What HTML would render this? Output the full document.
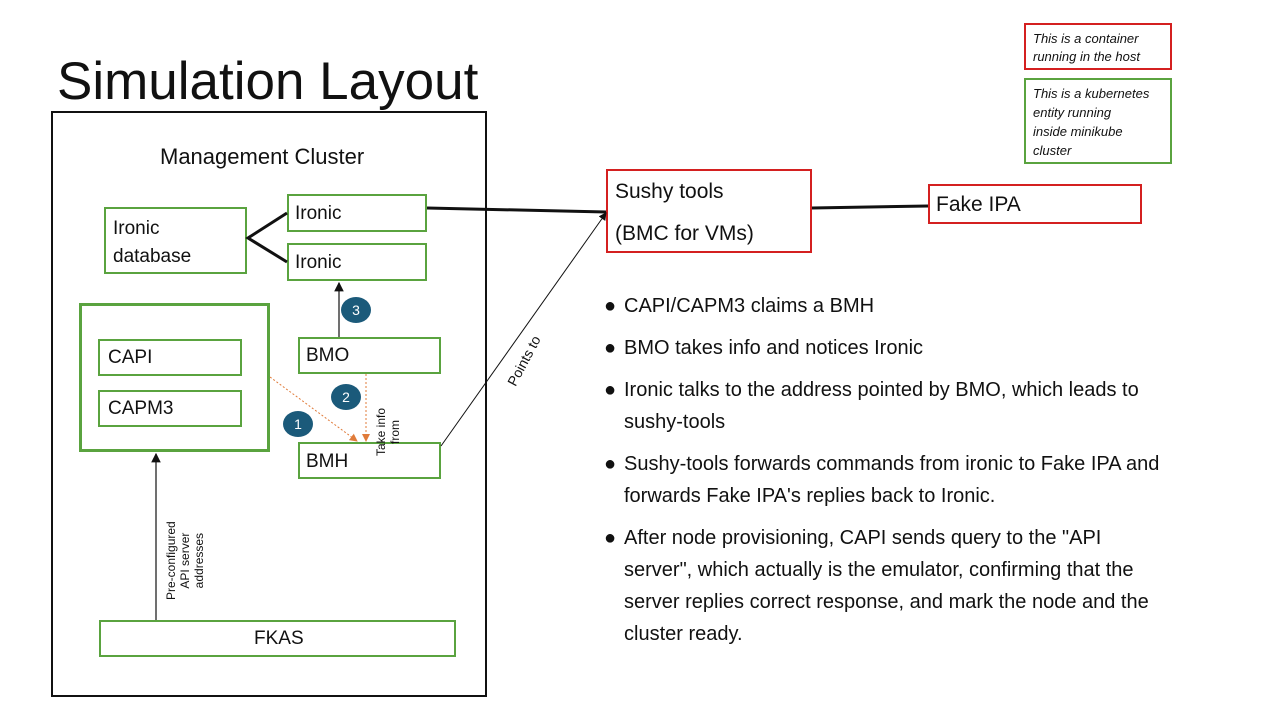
<!DOCTYPE html>
<html><head><meta charset="utf-8"><style>
body{margin:0;width:1280px;height:720px;background:#fff;position:relative;overflow:hidden;font-family:"Liberation Sans",sans-serif;color:#111}
.b{position:absolute;box-sizing:border-box}
.g{border:2px solid #5aa33f}
.r{border:2px solid #d42020}
.t{position:absolute;white-space:nowrap}
.c{position:absolute;width:30px;height:26px;border-radius:50%;background:#1b5a7a;color:#fff;font-size:14px;text-align:center;line-height:26px}
li{margin-bottom:10px;position:relative}
li span{position:absolute;left:-20px}
</style></head><body>
<div class="t" style="left:57px;top:51px;font-size:53px">Simulation Layout</div>
<div class="b" style="left:51px;top:111px;width:436px;height:586px;border:2px solid #111"></div>
<div class="t" style="left:160px;top:144px;font-size:22px">Management Cluster</div>

<div class="b g" style="left:104px;top:207px;width:143px;height:67px"></div>
<div class="t" style="left:113px;top:215px;font-size:19px;line-height:28px">Ironic<br>database</div>
<div class="b g" style="left:287px;top:194px;width:140px;height:38px"></div>
<div class="t" style="left:295px;top:203px;font-size:19px">Ironic</div>
<div class="b g" style="left:287px;top:243px;width:140px;height:38px"></div>
<div class="t" style="left:295px;top:252px;font-size:19px">Ironic</div>

<div class="b g" style="left:79px;top:303px;width:191px;height:149px;border-width:3px"></div>
<div class="b g" style="left:98px;top:339px;width:144px;height:37px"></div>
<div class="t" style="left:108px;top:347px;font-size:19px">CAPI</div>
<div class="b g" style="left:98px;top:390px;width:144px;height:37px"></div>
<div class="t" style="left:108px;top:398px;font-size:19px">CAPM3</div>

<div class="b g" style="left:298px;top:337px;width:143px;height:37px"></div>
<div class="t" style="left:306px;top:345px;font-size:19px">BMO</div>
<div class="b g" style="left:298px;top:442px;width:143px;height:37px"></div>
<div class="t" style="left:306px;top:451px;font-size:19px">BMH</div>

<div class="b g" style="left:99px;top:620px;width:357px;height:37px"></div>
<div class="t" style="left:254px;top:628px;font-size:19px">FKAS</div>

<div class="c" style="left:341px;top:297px">3</div>
<div class="c" style="left:331px;top:384px">2</div>
<div class="c" style="left:283px;top:411px">1</div>

<div class="b r" style="left:606px;top:169px;width:206px;height:84px"></div>
<div class="t" style="left:615px;top:171px;font-size:21px;line-height:42px">Sushy tools<br>(BMC for VMs)</div>
<div class="b r" style="left:928px;top:184px;width:214px;height:40px"></div>
<div class="t" style="left:936px;top:193px;font-size:21px">Fake IPA</div>

<div class="b r" style="left:1024px;top:23px;width:148px;height:47px"></div>
<div class="t" style="left:1033px;top:30px;font-size:13px;font-style:italic;line-height:18px">This is a container<br>running in the host</div>
<div class="b g" style="left:1024px;top:78px;width:148px;height:86px"></div>
<div class="t" style="left:1033px;top:84px;font-size:13px;font-style:italic;line-height:19px">This is a kubernetes<br>entity running<br>inside minikube<br>cluster</div>

<div class="t" style="font-size:12px;line-height:14px;transform:rotate(-90deg);transform-origin:0 0;left:374px;top:456px;text-align:center">Take info<br>from</div>
<div class="t" style="left:164px;top:600px;font-size:12px;line-height:14px;transform:rotate(-90deg);transform-origin:0 0;text-align:center">Pre-configured<br>API server<br>addresses</div>
<div class="t" style="left:504px;top:381px;font-size:14px;transform:rotate(-62deg);transform-origin:0 0">Points to</div>

<svg width="1280" height="720" style="position:absolute;left:0;top:0">
<defs>
<marker id="a" markerWidth="8" markerHeight="8" refX="7" refY="4" orient="auto"><path d="M0,0L8,4L0,8z" fill="#111"/></marker>
<marker id="o" markerWidth="8" markerHeight="8" refX="7" refY="4" orient="auto"><path d="M0,0L8,4L0,8z" fill="#e07b3a"/></marker>
</defs>
<path d="M287,213L248,238L287,262" stroke="#111" stroke-width="3" fill="none"/>
<line x1="427" y1="208" x2="606" y2="212" stroke="#111" stroke-width="3"/>
<line x1="812" y1="208" x2="928" y2="206" stroke="#111" stroke-width="3"/>
<line x1="441" y1="446" x2="606" y2="213" stroke="#111" stroke-width="1" marker-end="url(#a)"/>
<line x1="339" y1="337" x2="339" y2="283" stroke="#111" stroke-width="1.2" marker-end="url(#a)"/>
<line x1="156" y1="620" x2="156" y2="454" stroke="#111" stroke-width="1.2" marker-end="url(#a)"/>
<line x1="270" y1="377" x2="357" y2="441" stroke="#e07b3a" stroke-dasharray="2,2" marker-end="url(#o)"/>
<line x1="366" y1="374" x2="366" y2="441" stroke="#e07b3a" stroke-dasharray="2,2" marker-end="url(#o)"/>
</svg>

<ul style="position:absolute;left:604px;top:290px;margin:0;padding:0 0 0 20px;width:548px;font-size:20px;line-height:32px;list-style:none">
<li><span>●</span>CAPI/CAPM3 claims a BMH</li>
<li><span>●</span>BMO takes info and notices Ironic</li>
<li><span>●</span>Ironic talks to the address pointed by BMO, which leads to sushy-tools</li>
<li><span>●</span>Sushy-tools forwards commands from ironic to Fake IPA and forwards Fake IPA's replies back to Ironic.</li>
<li><span>●</span>After node provisioning, CAPI sends query to the "API server", which actually is the emulator, confirming that the server replies correct response, and mark the node and the cluster ready.</li>
</ul>
</body></html>
